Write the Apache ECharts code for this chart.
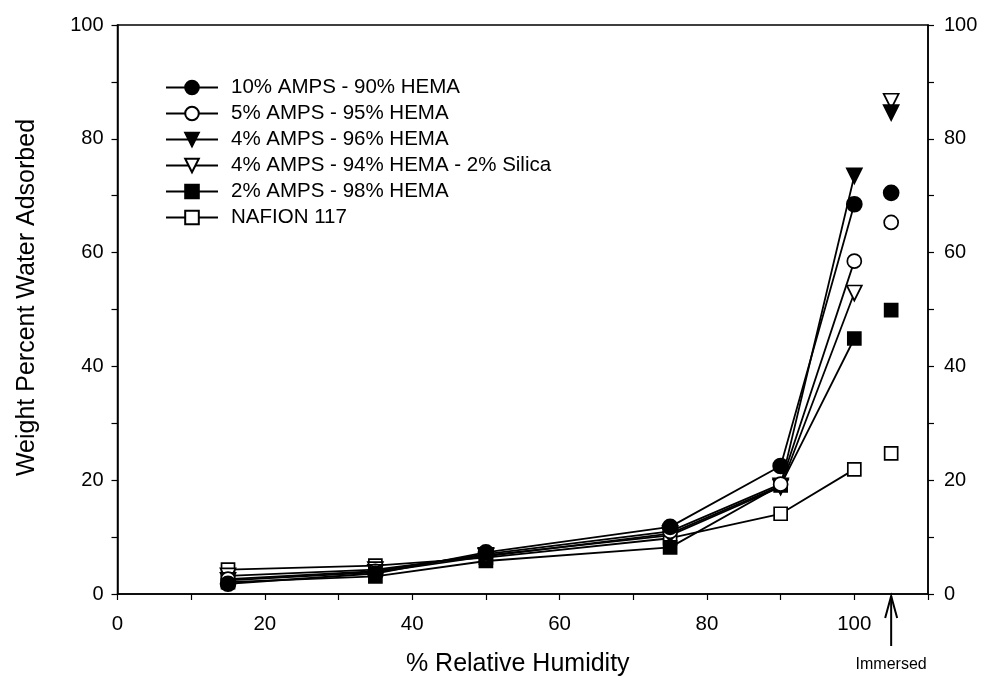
<!DOCTYPE html>
<html>
<head>
<meta charset="utf-8">
<script src="https://cdn.jsdelivr.net/npm/echarts@6/dist/echarts.min.js"></script>
<style>html,body{margin:0;padding:0;background:#fff}#c{width:985px;height:682px}</style>
</head>
<body>
<div id="c"></div>
<script>
// Relative humidity (%) of the measured points
const humidity = [15, 35, 50, 75, 90, 100];
// x position used for the "Immersed" points
const immersedX = 105;

const seriesNames = [
  '10% AMPS - 90% HEMA',
  '5% AMPS - 95% HEMA',
  '4% AMPS - 96% HEMA',
  '4% AMPS - 94% HEMA - 2% Silica',
  '2% AMPS - 98% HEMA',
  'NAFION 117'
];
const amps10 = [1.8, 3.6, 7.3, 11.8, 22.5, 68.5];
const amps5 = [2.6, 4.0, 7.0, 11.0, 19.3, 58.5];
const amps4 = [2.4, 3.8, 6.6, 10.6, 19.0, 73.5];
const amps4silica = [3.2, 4.3, 6.8, 10.3, 18.8, 52.9];
const amps2 = [2.1, 3.1, 5.8, 8.2, 19.1, 44.9];
const nafion = [4.3, 5.0, 6.4, 9.8, 14.1, 21.9];

const immersed10 = 70.5;
const immersed5 = 65.3;
const immersed4 = 84.6;
const immersed4silica = 86.6;
const immersed2 = 49.9;
const immersedNafion = 24.7;

const xTickLabels = [0, 20, 40, 60, 80, 100];
const yTickLabels = [0, 20, 40, 60, 80, 100];

const seriesValues = [amps10, amps5, amps4, amps4silica, amps2, nafion];
const immersedValues = [immersed10, immersed5, immersed4, immersed4silica, immersed2, immersedNafion];
const symbols = ['circle', 'circle', 'triangle', 'triangle', 'rect', 'rect'];
const filled = [true, false, true, false, true, false];
const rotations = [0, 0, 180, 180, 0, 0];
const sizes = [15, 14, 15, 15, 13, 13];

const FONT = 'Liberation Sans, Arial, Helvetica, sans-serif';

const series = seriesNames.map((name, i) => {
  const data = humidity.map((h, j) => [h, seriesValues[i][j]]);
  data.push([(humidity[humidity.length - 1] + immersedX) / 2, null]);
  data.push([immersedX, immersedValues[i]]);
  return {
    name: name,
    type: 'line',
    data: data,
    connectNulls: false,
    symbol: symbols[i],
    symbolRotate: rotations[i],
    symbolSize: sizes[i],
    showAllSymbol: true,
    z: 10 - i,
    lineStyle: { color: '#000', width: 1.8 },
    itemStyle: {
      color: filled[i] ? '#000' : '#fff',
      borderColor: '#000',
      borderWidth: 1.7
    },
    emphasis: { disabled: true },
    animation: false
  };
});

const chart = echarts.init(document.getElementById('c'), null, { renderer: 'canvas' });

const yAxisCommon = {
  type: 'value',
  min: 0,
  max: 100,
  interval: 10,
  axisLine: { show: true, lineStyle: { color: '#000', width: 1.5 } },
  axisTick: { show: true, inside: false, length: 6, lineStyle: { color: '#000', width: 1.2 } },
  splitLine: { show: false },
  axisLabel: {
    color: '#000',
    fontSize: 20,
    fontFamily: FONT,
    margin: 14,
    formatter: v => (yTickLabels.indexOf(v) >= 0 ? String(v) : '')
  }
};

chart.setOption({
  backgroundColor: '#fff',
  animation: false,
  grid: {
    left: 117.5,
    right: 57,
    top: 25,
    bottom: 84,
    show: true,
    borderColor: '#000',
    borderWidth: 1.5,
    backgroundColor: 'transparent'
  },
  legend: {
    orient: 'vertical',
    left: 165,
    top: 77,
    padding: 0,
    itemWidth: 52,
    itemHeight: 17,
    itemGap: 5,
    data: seriesNames,
    selectedMode: false,
    textStyle: { color: '#000', fontSize: 20.5, fontFamily: FONT, padding: [0, 0, 0, 8] }
  },
  xAxis: {
    type: 'value',
    min: 0,
    max: 110,
    interval: 10,
    name: '% Relative Humidity',
    nameLocation: 'middle',
    nameGap: 58,
    nameTextStyle: { color: '#000', fontSize: 25, fontFamily: FONT, padding: [0, 10, 0, 0] },
    axisLine: { show: true, onZero: false, lineStyle: { color: '#000', width: 1.5 } },
    axisTick: { show: true, length: 6, lineStyle: { color: '#000', width: 1.2 } },
    splitLine: { show: false },
    axisLabel: {
      color: '#000',
      fontSize: 20.5,
      fontFamily: FONT,
      margin: 20,
      showMaxLabel: true,
      formatter: v => (xTickLabels.indexOf(v) >= 0 ? String(v) : '')
    }
  },
  yAxis: [
    Object.assign({}, yAxisCommon, {
      position: 'left',
      name: 'Weight Percent Water Adsorbed',
      nameLocation: 'middle',
      nameGap: 78,
      nameTextStyle: { color: '#000', fontSize: 25, fontFamily: FONT, padding: [0, 0, 0, 24] }
    }),
    Object.assign({}, yAxisCommon, { position: 'right', axisLabel: Object.assign({}, yAxisCommon.axisLabel, { margin: 16 }) })
  ],
  series: series
});

// "Immersed" annotation with an arrow, placed through the axis scale
const px = chart.convertToPixel({ xAxisIndex: 0, yAxisIndex: 0 }, [immersedX, 0]);
chart.setOption({
  graphic: [
    {
      type: 'line',
      shape: { x1: px[0], y1: px[1] + 2, x2: px[0], y2: px[1] + 52 },
      style: { stroke: '#000', lineWidth: 2 }
    },
    {
      type: 'polyline',
      shape: { points: [[px[0] - 6, px[1] + 24], [px[0], px[1] + 2], [px[0] + 6, px[1] + 24]] },
      style: { stroke: '#000', lineWidth: 2, fill: null }
    },
    {
      type: 'text',
      x: px[0],
      y: px[1] + 71,
      style: {
        text: 'Immersed',
        fill: '#000',
        font: '16px ' + FONT,
        align: 'center',
        verticalAlign: 'middle'
      }
    }
  ]
});
</script>
</body>
</html>
